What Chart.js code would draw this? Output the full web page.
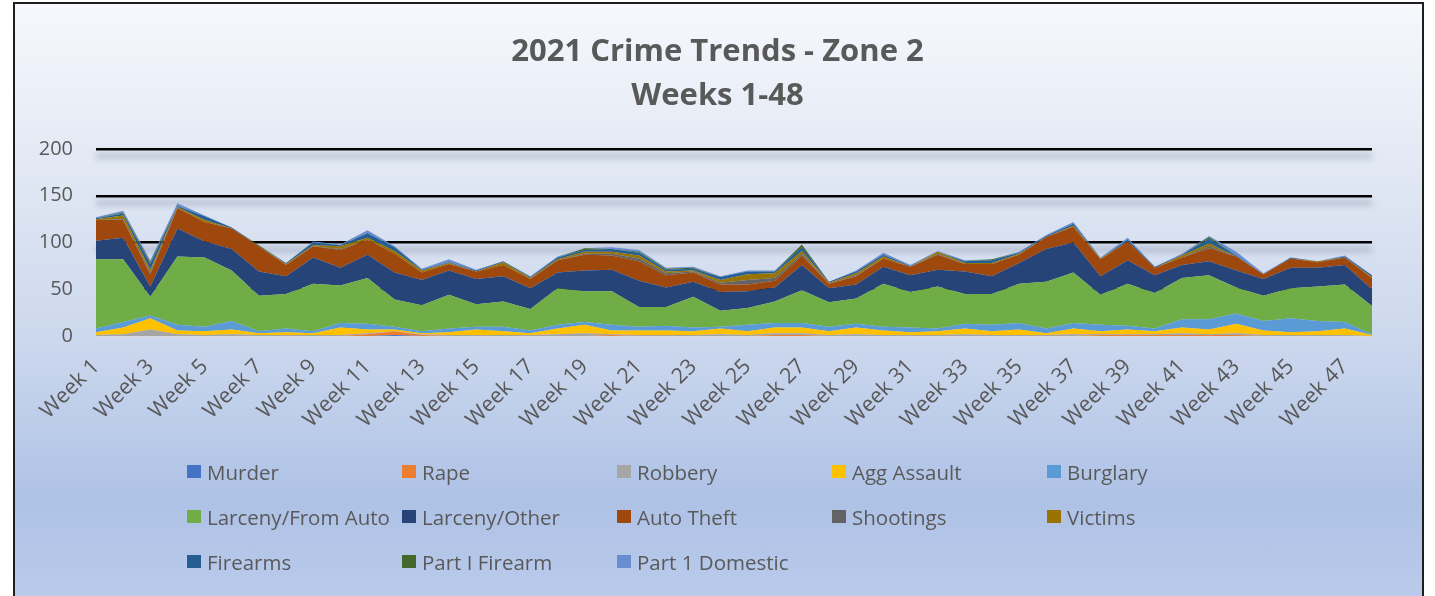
<!DOCTYPE html>
<html>
<head>
<meta charset="utf-8">
<title>2021 Crime Trends - Zone 2</title>
<script src="https://cdn.jsdelivr.net/npm/chart.js@4.4.0/dist/chart.umd.min.js"></script>
<style>
    body { margin: 0; background: #ffffff; font-family: "Open Sans", sans-serif; }
    #frame {
        position: absolute; left: 13px; top: 2px; width: 1407px; height: 620px;
        border: 2px solid #1e1e1e;
        background: linear-gradient(to bottom, #f6f8fc 0%, #dfe6f3 30%, #cbd7ed 55%, #aec2e6 80%, #bdcdec 100%);
    }
    #chart { position: absolute; left: 0; top: 0; }
    #legend {
        position: absolute; left: 187px; top: 449px;
        display: grid; grid-template-columns: repeat(5, 215px); grid-auto-rows: 45px;
    }
    .item { display: flex; align-items: center; color: #595959; font-size: 20.5px; white-space: nowrap; }
    .item span.box { width: 14px; height: 13px; margin-right: 6px; flex: none; }
</style>
</head>
<body>
<div id="frame"></div>
<canvas id="chart" width="1435" height="596"></canvas>
<div id="legend"></div>
<script>
// Categories
const weeks = [];
for (let i = 1; i <= 48; i++) weeks.push('Week ' + i);

// Series values
const murder       = [0,0,0,0,0,0,0,0,0,0, 0,1,0,0,0,0,0,0,0,0, 0,0,0,0,0,0,0,0,0,0, 0,0,0,0,0,0,0,0,0,0, 0,0,0,0,0,0,0,0];
const rape         = [0,0,0,0,0,0,0,0,0,0, 2,4,1,0,0,0,0,0,0,1, 0,0,0,0,0,1,1,0,0,0, 0,0,0,0,0,0,0,1,1,1, 1,1,1,0,0,0,0,0];
const robbery      = [1,2,7,2,1,2,1,1,1,1, 1,0,1,1,1,1,1,2,3,1, 1,1,1,2,1,2,2,1,2,1, 1,1,2,1,1,1,2,1,1,1, 2,1,2,1,1,1,1,0];
const aggAssault   = [3,7,12,4,4,5,2,3,2,8, 4,2,1,3,6,4,2,6,9,4, 5,5,4,6,4,6,6,4,7,5, 3,4,6,4,6,2,6,3,5,3, 6,5,10,5,3,4,7,1];
const burglary     = [4,6,3,6,5,9,2,4,2,5, 6,3,2,4,3,5,3,4,3,6, 4,5,4,2,7,5,5,5,4,4, 5,3,5,7,7,5,6,7,4,3, 9,11,11,10,15,11,7,1];
const larcenyAuto  = [74,67,20,73,74,54,38,37,51,40, 49,29,28,36,24,27,23,39,33,36, 21,20,33,17,18,23,35,26,27,46, 38,45,32,33,42,50,54,32,45,38, 44,47,28,27,32,37,40,30];
const larcenyOther = [20,23,11,30,17,23,26,19,28,19, 25,29,27,26,27,27,22,17,22,23, 28,21,16,20,18,15,27,15,15,18, 18,18,24,19,22,35,32,20,25,19, 14,15,18,18,22,20,21,18];
const autoTheft    = [22,19,13,22,21,22,27,12,12,19, 16,20,8,7,8,12,10,13,17,15, 21,13,10,8,7,7,10,5,9,9, 9,16,8,13,9,13,17,18,20,8, 8,14,15,5,10,6,8,12];
const shootings    = [0,1,2,0,0,0,0,0,0,1, 0,0,0,0,0,0,0,0,1,2, 3,2,1,2,5,3,2,0,1,0, 0,1,0,0,0,0,0,0,0,0, 0,2,0,0,0,0,0,0];
const victims      = [1,4,3,1,2,0,0,1,1,3, 2,3,2,1,0,3,1,1,2,2, 3,2,1,3,6,5,3,1,2,2, 0,2,1,1,1,0,1,1,0,0, 2,3,0,0,0,1,0,1];
const firearms     = [1,2,6,1,4,1,0,1,3,1, 5,4,1,1,1,1,1,2,2,3, 3,2,2,3,3,2,4,1,2,2, 1,0,2,3,1,1,2,0,2,1, 1,5,1,0,1,0,1,2];
const partIFirearm = [0,1,2,0,0,0,1,0,0,0, 0,0,0,0,0,0,0,0,2,0, 1,1,1,0,0,0,3,0,0,0, 0,0,0,1,0,0,0,0,0,0, 0,2,0,0,0,0,0,0];
const domestic     = [1,2,2,3,1,0,0,0,1,1, 3,1,1,3,1,0,1,1,0,2, 2,1,1,1,1,1,0,0,1,2, 1,1,1,0,1,1,2,1,2,0, 1,1,4,1,0,0,1,0];

const yTicks = [0, 50, 100, 150, 200];

const seriesNames = ['Murder', 'Rape', 'Robbery', 'Agg Assault', 'Burglary', 'Larceny/From Auto',
    'Larceny/Other', 'Auto Theft', 'Shootings', 'Victims', 'Firearms', 'Part I Firearm', 'Part 1 Domestic'];
const seriesData = [murder, rape, robbery, aggAssault, burglary, larcenyAuto, larcenyOther,
    autoTheft, shootings, victims, firearms, partIFirearm, domestic];
const seriesColors = ['#4472C4', '#ED7D31', '#A5A5A5', '#FFC000', '#5B9BD5', '#70AD47', '#264478',
    '#9E480E', '#636363', '#997300', '#255E91', '#43682B', '#698ED0'];

const textColor = '#595959';

// soft shadow under the black gridlines
const gridShadow = {
    id: 'gridShadow',
    beforeDatasetsDraw(chart) {
        const { ctx, chartArea, scales } = chart;
        ctx.save();
        ctx.filter = 'blur(3px)';
        ctx.strokeStyle = 'rgba(100,110,135,0.35)';
        ctx.lineWidth = 5;
        [100, 150, 200].forEach(function(v) {
            const py = scales.y.getPixelForValue(v) + 7;
            ctx.beginPath();
            ctx.moveTo(chartArea.left, py);
            ctx.lineTo(chartArea.right, py);
            ctx.stroke();
        });
        ctx.restore();
    }
};

const datasets = seriesNames.map(function(name, i) {
    return {
        label: name,
        data: seriesData[i],
        backgroundColor: seriesColors[i],
        borderColor: seriesColors[i],
        borderWidth: 0,
        pointRadius: 0,
        tension: 0,
        fill: i === 0 ? 'origin' : '-1'
    };
});

const chart = new Chart(document.getElementById('chart').getContext('2d'), {
    type: 'line',
    data: { labels: weeks, datasets: datasets },
    plugins: [gridShadow],
    options: {
        responsive: false,
        animation: false,
        layout: { padding: { left: 0, right: 0, top: 0, bottom: 160 } },
        plugins: {
            legend: { display: false },
            tooltip: { enabled: false },
            title: {
                display: true,
                text: ['2021 Crime Trends - Zone 2', 'Weeks 1-48'],
                color: textColor,
                font: { family: 'Open Sans', size: 31, weight: 'bold', lineHeight: 1.42 },
                padding: { top: 30, bottom: 31 }
            }
        },
        scales: {
            x: {
                grid: { drawOnChartArea: false, drawTicks: true, tickLength: 6, color: '#d3d8e0', lineWidth: 2 },
                border: { display: true, color: '#d9d9d9', width: 2 },
                ticks: {
                    autoSkip: false,
                    maxRotation: 45,
                    minRotation: 45,
                    padding: 12,
                    color: textColor,
                    font: { family: 'Open Sans', size: 21.5 },
                    callback: function(val, i) { return i % 2 === 0 ? weeks[i] : ''; }
                },
                afterFit: function(s) { s.height = 100; }
            },
            y: {
                stacked: true,
                min: 0,
                max: 200,
                afterBuildTicks: function(s) { s.ticks = yTicks.map(v => ({ value: v })); },
                grid: {
                    drawTicks: false,
                    lineWidth: 2.5,
                    color: ctx => ctx.tick && ctx.tick.value === 0 ? 'rgba(0,0,0,0)' : '#000000'
                },
                border: { display: false },
                ticks: { padding: 23, color: textColor, font: { family: 'Open Sans', size: 20 } },
                afterFit: function(s) { s.width = 96; }
            },
            yRight: {
                position: 'right',
                grid: { display: false },
                border: { display: false },
                ticks: { display: false },
                afterFit: function(s) { s.width = 63; }
            }
        }
    }
});

// Legend laid out in five columns, built from the chart's datasets
const legendEl = document.getElementById('legend');
chart.data.datasets.forEach(function(ds) {
    const item = document.createElement('div');
    item.className = 'item';
    item.innerHTML = `<span class="box" style="background:${ds.backgroundColor}"></span>${ds.label}`;
    legendEl.appendChild(item);
});
</script>
</body>
</html>
